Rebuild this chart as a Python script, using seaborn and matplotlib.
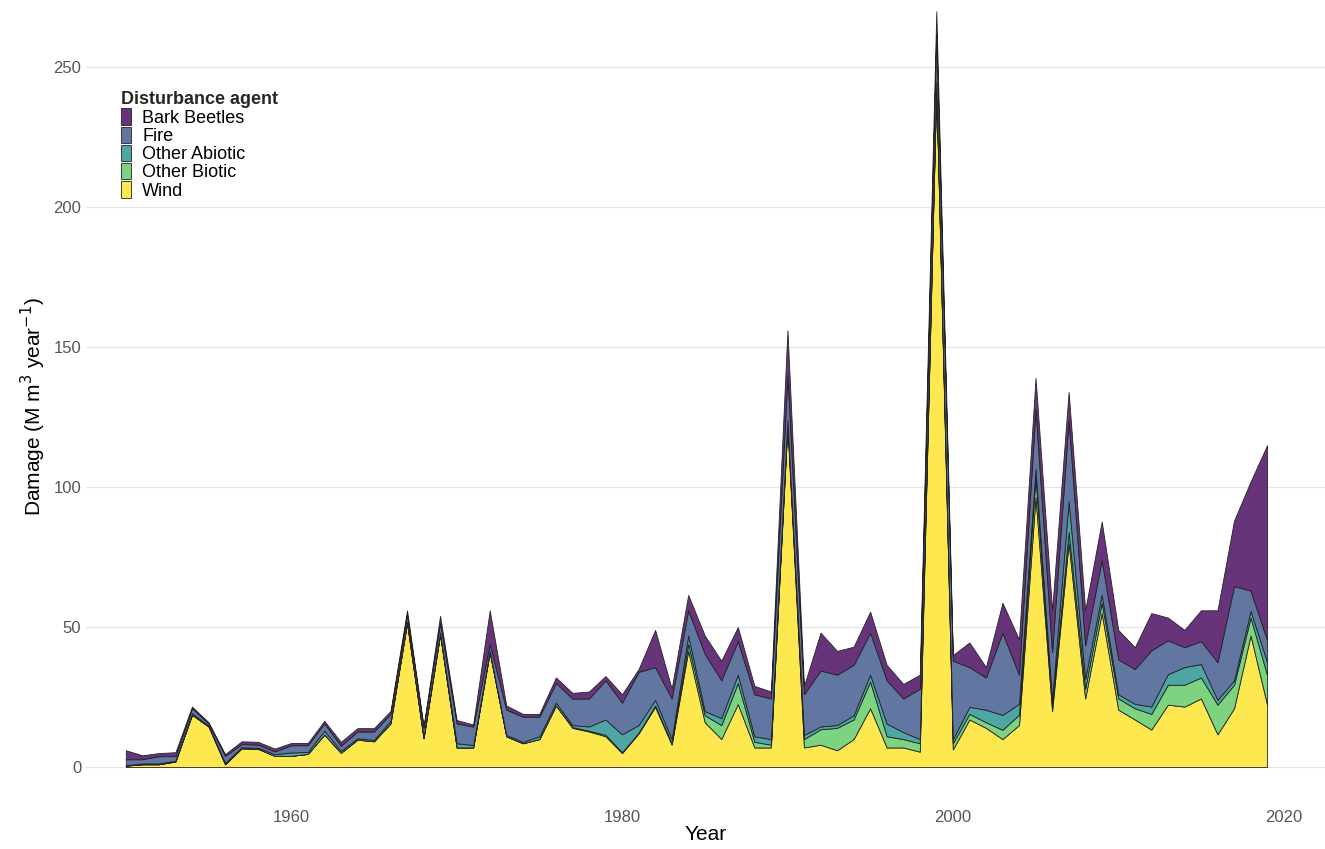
import numpy as np
import pandas as pd
import matplotlib
matplotlib.use("Agg")
import matplotlib.pyplot as plt
import seaborn as sns
from matplotlib.patches import Patch

years = list(range(1950, 2020))

# cumulative tops: wind, +biotic, +abiotic, +fire, total
cum_wind = [0.5, 1, 1, 2, 18.7, 14.5, 1, 6.7, 6.5, 4, 4, 4.7, 11.6, 5.1, 9.8, 9.2, 15.6, 51.5, 10.3, 47.4,
            7, 7, 41, 11, 8.5, 10, 22, 14, 12.7, 11, 5, 12, 21.5, 8, 41.5, 16, 10, 22.5, 7, 7,
            122, 7, 8, 6, 10, 21, 7, 7, 5.5, 243, 6.3, 17, 14, 10, 15, 96.5, 20, 80, 24.5, 55,
            20.5, 17, 13.4, 22.3, 21.6, 24.5, 11.7, 21, 47, 22.3]
cum_bio = [0.5, 1, 1, 2, 18.7, 14.5, 1, 6.7, 6.5, 4, 4, 4.7, 11.6, 5.1, 9.8, 9.2, 15.6, 51.5, 10.3, 47.4,
           7, 7, 41, 11, 8.5, 10, 22, 14.3, 13, 11.5, 5.3, 12.3, 22, 8.5, 44, 18.5, 15, 30, 9, 8,
           123, 10, 13.5, 14, 17, 30.5, 11, 10, 8.5, 244, 8.5, 19, 16, 13.3, 18.7, 103.6, 22, 84, 28, 58.7,
           24.5, 21, 19, 29.4, 29.4, 32, 22.3, 29.4, 53.4, 32.9]
cum_abio = [0.7, 1.3, 1.3, 2.3, 19.2, 14.8, 1.5, 7.1, 6.9, 4.6, 5.2, 5.4, 13, 5.8, 10.3, 9.7, 16.5, 52, 10.8, 48,
            8.5, 7.9, 41.5, 11.5, 9, 11, 23, 15, 14.5, 17, 11.7, 15, 24, 10, 47, 20, 17.5, 33, 11, 10,
            124, 11.5, 14.5, 15, 18.5, 33, 15.5, 12.5, 10, 245, 10, 21.5, 20.5, 18.6, 22.6, 106.5, 24, 95, 31.5, 61.6,
            26, 22.6, 21.6, 33.2, 35.7, 36.8, 24, 31, 55.8, 37.5]
cum_fire = [2.8, 2.8, 3.9, 3.9, 21, 15.6, 4, 8.2, 8, 5.6, 7.8, 7.8, 15.6, 7.6, 12.7, 12.7, 19, 54.5, 14, 51.5,
            15.6, 14.5, 44, 20.5, 18, 18, 30, 24.5, 24.5, 31, 23, 34, 35.7, 24.5, 56, 40.5, 31, 45, 26, 24.5,
            140, 26, 34.5, 33, 36.5, 48, 31, 24.5, 28, 262, 38, 35.7, 32, 48, 33, 128, 41, 124, 43.5, 74,
            38.5, 35, 41.7, 45.3, 42.8, 45, 37.5, 64.7, 63, 45.3]
total = [6, 4.2, 5, 5.3, 21.6, 16, 4.6, 9.2, 9, 6.6, 8.6, 8.6, 16.5, 9, 13.9, 13.9, 20, 56, 14.5, 54,
         16.8, 15.2, 56, 22, 19, 19, 32, 26.5, 27, 32.5, 26, 35, 49, 28, 61.5, 47, 38, 50, 29, 27,
         156, 29, 48, 41.5, 43, 55.5, 36.5, 29.7, 33, 270, 40, 44.5, 35.7, 58.7, 45.6, 139, 56, 134, 56, 87.7,
         49, 42.8, 55, 53.4, 49, 56, 56, 88, 102, 115]

agents = ["Wind", "Other Biotic", "Other Abiotic", "Fire", "Bark Beetles"]
colors = ["#fde94f", "#7dd37f", "#4da6a3", "#6176a1", "#67347c"]

cum = np.array([cum_wind, cum_bio, cum_abio, cum_fire, total])
vals = np.diff(np.vstack([np.zeros(len(years)), cum]), axis=0)
df = pd.DataFrame(vals.T, columns=agents, index=years)

sns.set_theme(style="whitegrid")
plt.rcParams["font.family"] = ["Liberation Sans", "DejaVu Sans"]

fig, ax = plt.subplots(figsize=(13.25, 8.49), dpi=100)
ax.stackplot(df.index, [df[a] for a in agents], colors=colors,
             edgecolor="#222222", linewidth=0.6)
ax.set_xlim(1947.6, 2022.5)
ax.set_ylim(-13.5, 271)
ax.set_yticks([0, 50, 100, 150, 200, 250])
ax.set_xticks([1960, 1980, 2000, 2020])
ax.grid(axis="x", visible=False)
ax.grid(axis="y", color="#e3e3e3", linewidth=0.8)
for s in ax.spines.values():
    s.set_visible(False)
ax.tick_params(labelsize=12, colors="#555555", length=0)
ax.set_xlabel("Year", fontsize=15, labelpad=0, color="black")
ax.set_ylabel("Damage (M m$^3$ year$^{-1}$)", fontsize=15, color="black")

handles = [Patch(facecolor=c, edgecolor="#222222", linewidth=0.6, label=a)
           for a, c in zip(agents[::-1], colors[::-1])]
leg = ax.legend(handles=handles, title="Disturbance agent", loc="upper left",
                bbox_to_anchor=(0.022, 0.905), frameon=False, fontsize=13,
                title_fontproperties={"weight": "bold", "size": 13},
                handlelength=0.6, handleheight=1.0, labelspacing=0.0,
                handletextpad=0.6, borderaxespad=0)
leg._legend_box.align = "left"
for t in leg.get_texts():
    t.set_color("black")

plt.subplots_adjust(left=0.065, right=1.0, top=0.99, bottom=0.052)
plt.savefig("out.png", dpi=100)
